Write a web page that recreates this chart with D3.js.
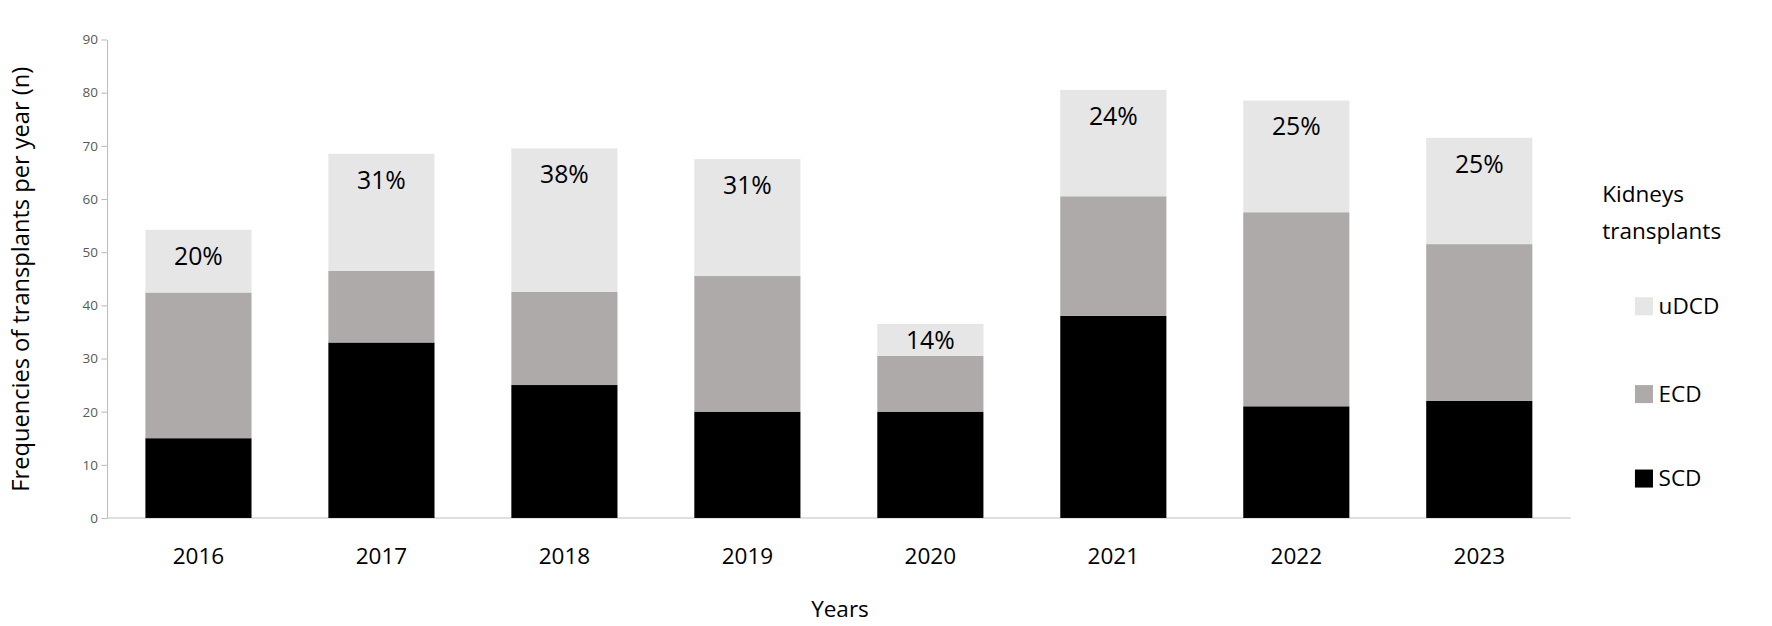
<!DOCTYPE html><html><head><meta charset="utf-8"><script src="https://cdn.jsdelivr.net/npm/d3@7"></script>
<style>body{margin:0;background:#fff}text{font-family:"Open Sans","Noto Sans",sans-serif}</style></head><body>
<svg id="c" width="1772" height="626"></svg>
<script>
const years=["2016","2017","2018","2019","2020","2021","2022","2023"];
const scd=[15,33,25,20,20,38,21,22];
const ecd=[27.4,13.5,17.5,25.5,10.5,22.5,36.5,29.5];
const udcd=[11.8,22,27,22,6,20,21,20];
const pct=["20%","31%","38%","31%","14%","24%","25%","25%"];
const yTicks=[0,10,20,30,40,50,60,70,80,90];
const series=[{k:"SCD",v:scd,c:"#000000"},{k:"ECD",v:ecd,c:"#aeaaaa"},{k:"uDCD",v:udcd,c:"#e7e6e6"}];
const svg=d3.select("#c").append("g").attr("transform","scale(1.126)");
const x=d3.scaleBand().domain(years).range([95,1395]).paddingInner(0.42).paddingOuter(0.21);
const y=d3.scaleLinear().domain([0,90]).range([460,35]);
const ya=svg.append("g").attr("transform","translate(95,0)").call(d3.axisLeft(y).tickValues(yTicks).tickSize(5).tickSizeOuter(0));
ya.selectAll("text").attr("font-size",12).attr("fill","#595959");
ya.selectAll("line,path").attr("stroke","#bfbfbf");
const xa=svg.append("g").attr("transform","translate(0,460)").call(d3.axisBottom(x).tickSize(0).tickSizeOuter(0));
xa.select("path").attr("stroke","#bfbfbf").attr("d","M95,0H1395");
xa.selectAll("text").attr("font-size",20).attr("fill","#000").attr("dy","1.9em");
years.forEach((yr,i)=>{let base=0;series.forEach(s=>{const v=s.v[i];
svg.append("rect").attr("x",x(yr)).attr("width",x.bandwidth()).attr("y",y(base+v)).attr("height",y(base)-y(base+v)).attr("fill",s.c);base+=v;});
const top=scd[i]+ecd[i]+udcd[i];
svg.append("text").attr("x",x(yr)+x.bandwidth()/2).attr("y",y(top)+(i==4?22:31)).attr("text-anchor","middle").attr("font-size",22).text(pct[i]);});
svg.append("text").attr("transform","translate(26,248) rotate(-90)").attr("text-anchor","middle").attr("font-size",21).text("Frequencies of transplants per year (n)");
svg.append("text").attr("x",746).attr("y",548).attr("text-anchor","middle").attr("font-size",20).text("Years");
svg.append("text").attr("x",1423).attr("y",179).attr("font-size",20).text("Kidneys");
svg.append("text").attr("x",1423).attr("y",212).attr("font-size",20).text("transplants");
[["uDCD","#e7e6e6",272],["ECD","#aeaaaa",350],["SCD","#000000",425]].forEach(([k,c,cy])=>{
svg.append("rect").attr("x",1452).attr("y",cy-8).attr("width",16).attr("height",16).attr("fill",c);
svg.append("text").attr("x",1473).attr("y",cy+7).attr("font-size",20).text(k);});
</script></body></html>
